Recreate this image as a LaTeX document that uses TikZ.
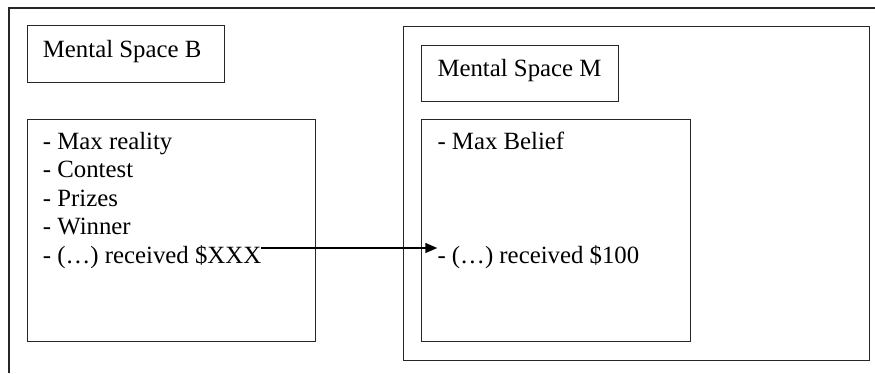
\documentclass[tikz,border=0pt]{standalone}
\usepackage{fontspec}
\setmainfont{Liberation Serif}
\usetikzlibrary{arrows.meta,calc}
\tikzset{
  frame/.style={draw=black!85, line width=1.4pt},
  box/.style={frame, rectangle, inner sep=0pt, anchor=north west},
  label/.style={inner sep=0pt, anchor=base west, font=\fontsize{24.8}{28.5}\selectfont},
  link/.style={line width=1.4pt, -{Triangle[length=12pt,width=10pt]}},
}
\begin{document}
\begin{tikzpicture}[x=1pt, y=-1pt]
  \useasboundingbox (0,0) rectangle (875,373);
  % surrounding frame (open to the right and below)
  \draw[frame] (875,8) -- (9,8) -- (9,373);

  % left space: B
  \node[box, minimum width=197pt, minimum height=57pt] (titleB) at (27,25) {};
  \node[label] (nameB) at (42.7,57.5) {Mental Space B};
  \node[box, minimum width=288pt, minimum height=222pt] (bodyB) at (27,119) {};
  \node[label] (b1) at (42.7,149) {- Max reality};
  \node[label] (b2) at (42.7,177.5) {- Contest};
  \node[label] (b3) at (42.7,206) {- Prizes};
  \node[label] (b4) at (42.7,234.5) {- Winner};
  \node[label] (b5) at (42.7,263) {- (…) received \$XXX};

  % right space: M
  \node[box, minimum width=466pt, minimum height=334pt] (spaceM) at (403,26) {};
  \node[box, minimum width=197pt, minimum height=56pt] (titleM) at (421,44.5) {};
  \node[label] (nameM) at (437.3,76) {Mental Space M};
  \node[box, minimum width=269pt, minimum height=222pt] (bodyM) at (421,119) {};
  \node[label] (m1) at (437.3,149) {- Max Belief};
  \node[label] (m2) at (437.3,263) {- (…) received \$100};

  % mapping between the two spaces
  \coordinate (from) at ($(b5.base east)+(0,-15)$);
  \coordinate (to) at ($(m2.base west)+(0,-15)$);
  \draw[link] (from) -- (to);
\end{tikzpicture}
\end{document}
